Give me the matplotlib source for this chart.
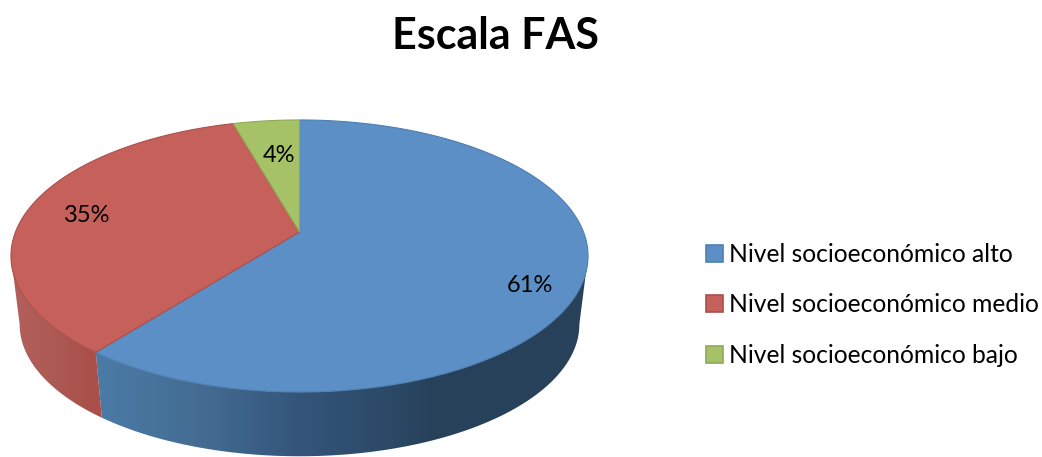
import numpy as np
import matplotlib
matplotlib.use('Agg')
import matplotlib.pyplot as plt
from matplotlib.patches import Polygon, Patch
from matplotlib.colors import to_rgb
plt.rcParams["font.family"] = ["Lato", "DejaVu Sans"]

# Data
categories = ["Nivel socioeconómico alto", "Nivel socioeconómico medio", "Nivel socioeconómico bajo"]
shares = [60.6, 35.0, 4.4]

# Colours of each slice
top_colors = ["#5b8fc5", "#c6605a", "#a5c266"]
edge_colors = ["#4f7fb0", "#a9504c", "#8fa858"]
# Wall shade of the slices, by pixel column
wall_stops = [
    ([100, 200, 300, 400, 430], ["#4a7ba6", "#446c92", "#34557a", "#2a4864", "#27415a"]),
    ([20, 60, 90], ["#b25f5b", "#ac5852", "#aa4f4a"]),
    ([0, 1], ["#8fa858", "#8fa858"]),
]

# Geometry of the fake 3D pie (pixels)
cx, cy = 299.5, 232.0
sx, sy = 284.0, 131.8
persp = 0.1765
depth = 69.0
shrink = 0.97
label_offsets = [(5, 17), (4.5, 3), (7, 15)]


def project(theta, r=1.0, scale=1.0, drop=0.0):
    # theta is clockwise from 12 o'clock, radians
    u = r*np.sin(theta)
    v = r*np.cos(theta)
    w = 1 + persp*v
    return cx + scale*sx*u/w, cy + drop - scale*sy*v/w


fig = plt.figure(figsize=(10.42, 4.57), dpi=100)
ax = fig.add_axes([0, 0, 1, 1])

edges = np.cumsum([0] + shares)/np.sum(shares)*2*np.pi

# Only the front of the wall shows, between the two widest points of the top
wall_from = np.arccos(-persp)
wall_to = 2*np.pi - wall_from
columns = np.arange(0, 1042)

for i in range(len(shares)):
    a = max(edges[i], wall_from)
    b = min(edges[i+1], wall_to)
    if b <= a:
        continue
    t = np.linspace(a, b, 200)
    xt, yt = project(t)
    xb, yb = project(t, scale=shrink, drop=depth)
    outline = Polygon(list(zip(xt, yt)) + list(zip(xb[::-1], yb[::-1])), facecolor="none", edgecolor="none")
    ax.add_patch(outline)
    stops = np.array([to_rgb(c) for c in wall_stops[i][1]])
    shade = np.stack([np.interp(columns, wall_stops[i][0], stops[:, k]) for k in range(3)], axis=1)
    im = ax.imshow(shade[np.newaxis, :, :], extent=(0, 1042, 457, 0), aspect="auto", zorder=1)
    im.set_clip_path(outline)

# Top face
for i in range(len(shares)):
    t = np.linspace(edges[i], edges[i+1], 200)
    xs, ys = project(t)
    pts = [(cx, cy)] + list(zip(xs, ys))
    ax.add_patch(Polygon(pts, facecolor=top_colors[i], edgecolor=edge_colors[i], linewidth=0.8, zorder=2))

    mid = (edges[i]+edges[i+1])/2
    lx, ly = project(mid, r=0.8)
    ax.text(lx+label_offsets[i][0], ly+label_offsets[i][1], "{:.0f}%".format(shares[i]),
            ha="center", va="center", fontsize=17, color="#000000", zorder=3)

ax.text(496, 36, "Escala FAS", ha="center", va="center", fontsize=31, fontweight="bold", color="#000000")

handles = [Patch(facecolor=top_colors[i], edgecolor=edge_colors[i], linewidth=1.2) for i in range(3)]
ax.legend(handles, categories, loc="center left", bbox_to_anchor=(706/1042, 1-305/457), frameon=False,
          fontsize=17.7, handlelength=0.68, handleheight=0.68, handletextpad=0.25, labelspacing=1.11,
          borderpad=0, borderaxespad=0)

ax.set_xlim(0, 1042)
ax.set_ylim(457, 0)
ax.axis("off")

plt.savefig("out.png", dpi=100)
plt.close()
